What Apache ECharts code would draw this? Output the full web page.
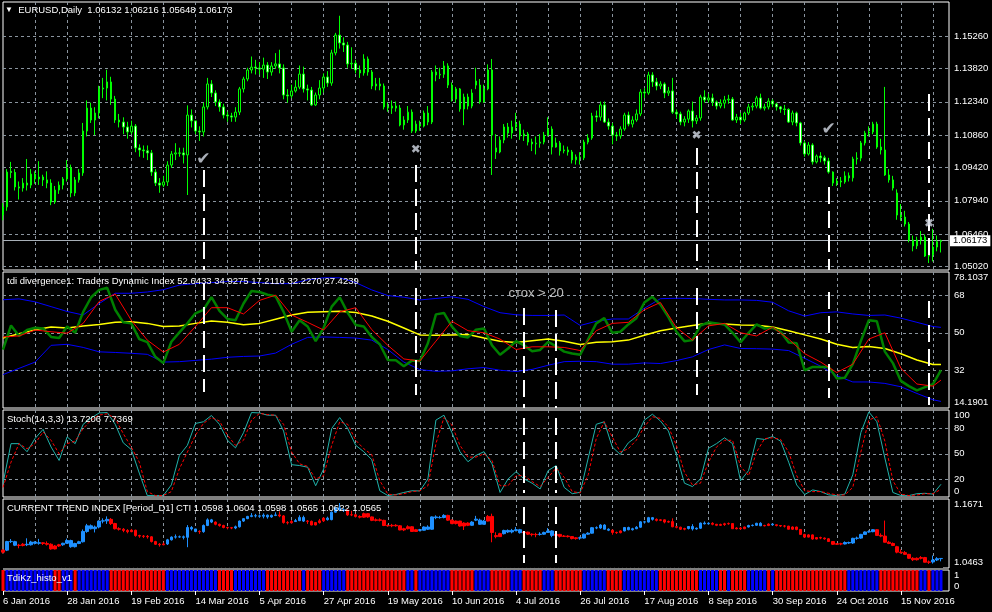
<!DOCTYPE html>
<html>
<head>
<meta charset="utf-8">
<script src="https://cdn.jsdelivr.net/npm/echarts@6/dist/echarts.min.js"></script>
<style>
  html, body { margin: 0; padding: 0; background: #000; }
  #main { width: 992px; height: 612px; }
</style>
</head>
<body>
<div id="main"></div>
<script>
// EURUSD daily, 6 Jan 2016 .. 29 Nov 2016 (235 bars) + MT4 indicator panes

const dateLabels = ['6 Jan 2016', '28 Jan 2016', '19 Feb 2016', '14 Mar 2016', '5 Apr 2016', '27 Apr 2016',
  '19 May 2016', '10 Jun 2016', '4 Jul 2016', '26 Jul 2016', '17 Aug 2016', '8 Sep 2016', '30 Sep 2016',
  '24 Oct 2016', '15 Nov 2016'];

// [open, close, low, high]
const ohlc = [
  [1.0731,1.0767,1.0708,1.0784],[1.0767,1.0922,1.0750,1.0935],[1.0925,1.0920,1.0895,1.0967],[1.0920,1.0856,1.0840,1.0935],
  [1.0856,1.0851,1.0800,1.0880],[1.0851,1.0873,1.0835,1.0895],[1.0873,1.0864,1.0840,1.0980],[1.0864,1.0913,1.0850,1.0935],
  [1.0913,1.0891,1.0870,1.0925],[1.0891,1.0900,1.0865,1.0970],[1.0900,1.0887,1.0860,1.0910],[1.0887,1.0873,1.0850,1.0925],
  [1.0873,1.0789,1.0775,1.0890],[1.0789,1.0842,1.0780,1.0860],[1.0842,1.0864,1.0825,1.0880],[1.0864,1.0891,1.0845,1.0900],
  [1.0891,1.0940,1.0880,1.0975],[1.0940,1.0829,1.0810,1.0955],[1.0829,1.0887,1.0815,1.0900],[1.0887,1.0918,1.0875,1.0935],
  [1.0918,1.1104,1.0905,1.1140],[1.1104,1.1206,1.1080,1.1240],[1.1206,1.1153,1.1140,1.1230],[1.1153,1.1184,1.1086,1.1210],
  [1.1184,1.1291,1.1160,1.1305],[1.1291,1.1295,1.1250,1.1340],[1.1295,1.1322,1.1240,1.1376],[1.1322,1.1246,1.1220,1.1345],
  [1.1246,1.1153,1.1140,1.1260],[1.1153,1.1144,1.1120,1.1180],[1.1144,1.1122,1.1090,1.1165],[1.1122,1.1100,1.1070,1.1145],
  [1.1100,1.1126,1.1090,1.1150],[1.1126,1.1029,1.1010,1.1135],[1.1029,1.1020,1.0990,1.1045],[1.1020,1.1016,1.0985,1.1040],
  [1.1016,1.1007,1.0975,1.1040],[1.1007,1.0922,1.0905,1.1020],[1.0922,1.0873,1.0860,1.0935],[1.0873,1.0864,1.0830,1.0895],
  [1.0864,1.0878,1.0855,1.0905],[1.0878,1.0953,1.0860,1.0970],[1.0953,1.1002,1.0940,1.1015],[1.1002,1.1007,1.0975,1.1050],
  [1.1005,1.1007,1.0990,1.1030],[1.1007,1.0998,1.0960,1.1030],[1.0998,1.1175,1.0820,1.1218],[1.1175,1.1149,1.1120,1.1200],
  [1.1149,1.1104,1.1090,1.1150],[1.1104,1.1100,1.1060,1.1125],[1.1100,1.1211,1.1080,1.1230],[1.1211,1.1313,1.1200,1.1340],
  [1.1313,1.1273,1.1255,1.1330],[1.1273,1.1233,1.1215,1.1285],[1.1233,1.1211,1.1190,1.1245],[1.1211,1.1175,1.1160,1.1225],
  [1.1175,1.1171,1.1145,1.1190],[1.1171,1.1166,1.1145,1.1185],[1.1166,1.1188,1.1145,1.1210],[1.1188,1.1291,1.1175,1.1300],
  [1.1291,1.1335,1.1275,1.1345],[1.1335,1.1375,1.1325,1.1385],[1.1375,1.1388,1.1360,1.1435],[1.1388,1.1384,1.1355,1.1420],
  [1.1384,1.1379,1.1355,1.1410],[1.1379,1.1397,1.1340,1.1430],[1.1397,1.1366,1.1335,1.1410],[1.1366,1.1393,1.1350,1.1410],
  [1.1393,1.1402,1.1380,1.1450],[1.1402,1.1384,1.1360,1.1465],[1.1384,1.1264,1.1245,1.1400],[1.1264,1.1260,1.1230,1.1290],
  [1.1260,1.1282,1.1250,1.1310],[1.1282,1.1299,1.1275,1.1330],[1.1299,1.1357,1.1290,1.1395],[1.1357,1.1291,1.1275,1.1390],
  [1.1291,1.1286,1.1240,1.1310],[1.1286,1.1220,1.1215,1.1300],[1.1220,1.1264,1.1215,1.1275],[1.1264,1.1295,1.1245,1.1330],
  [1.1295,1.1344,1.1275,1.1360],[1.1344,1.1317,1.1300,1.1370],[1.1317,1.1451,1.1305,1.1465],[1.1451,1.1530,1.1440,1.1540],
  [1.1530,1.1495,1.1470,1.1616],[1.1495,1.1486,1.1455,1.1520],[1.1486,1.1402,1.1385,1.1500],[1.1402,1.1405,1.1380,1.1476],
  [1.1405,1.1375,1.1360,1.1420],[1.1375,1.1362,1.1340,1.1395],[1.1362,1.1424,1.1350,1.1445],[1.1424,1.1366,1.1350,1.1435],
  [1.1366,1.1304,1.1290,1.1375],[1.1304,1.1313,1.1285,1.1340],[1.1313,1.1304,1.1285,1.1340],[1.1304,1.1211,1.1200,1.1315],
  [1.1211,1.1206,1.1190,1.1230],[1.1206,1.1215,1.1180,1.1240],[1.1215,1.1206,1.1190,1.1235],[1.1206,1.1131,1.1125,1.1220],
  [1.1131,1.1153,1.1110,1.1170],[1.1153,1.1188,1.1140,1.1215],[1.1188,1.1104,1.1095,1.1200],[1.1104,1.1135,1.1095,1.1150],
  [1.1135,1.1126,1.1105,1.1150],[1.1126,1.1184,1.1120,1.1195],[1.1184,1.1144,1.1130,1.1215],[1.1144,1.1366,1.1135,1.1375],
  [1.1366,1.1353,1.1325,1.1395],[1.1353,1.1356,1.1335,1.1385],[1.1356,1.1393,1.1340,1.1415],[1.1393,1.1308,1.1295,1.1405],
  [1.1308,1.1246,1.1235,1.1320],[1.1246,1.1291,1.1230,1.1300],[1.1291,1.1202,1.1190,1.1295],[1.1202,1.1255,1.1130,1.1270],
  [1.1255,1.1215,1.1200,1.1270],[1.1215,1.1273,1.1205,1.1290],[1.1326,1.1308,1.1290,1.1385],[1.1308,1.1233,1.1225,1.1335],
  [1.1233,1.1291,1.1230,1.1310],[1.1291,1.1375,1.1285,1.1400],[1.1375,1.1086,1.0909,1.1424],[1.1029,1.1011,1.0980,1.1090],
  [1.1011,1.1064,1.1005,1.1080],[1.1064,1.1122,1.1050,1.1135],[1.1122,1.1095,1.1075,1.1140],[1.1095,1.1122,1.1070,1.1150],
  [1.1122,1.1135,1.1105,1.1185],[1.1135,1.1082,1.1065,1.1150],[1.1082,1.1091,1.1060,1.1110],[1.1091,1.1055,1.1040,1.1100],
  [1.1055,1.1047,1.1015,1.1070],[1.1047,1.1050,1.1000,1.1080],[1.1050,1.1055,1.1030,1.1090],[1.1055,1.1086,1.1045,1.1100],
  [1.1086,1.1113,1.1080,1.1165],[1.1113,1.1033,1.1000,1.1125],[1.1033,1.1051,1.1030,1.1075],[1.1051,1.1016,1.0995,1.1060],
  [1.1016,1.1020,1.1005,1.1040],[1.1020,1.1011,1.0995,1.1035],[1.1011,1.0976,1.0960,1.1020],[1.0976,1.0989,1.0955,1.1000],
  [1.0989,1.0985,1.0955,1.1010],[1.0985,1.1055,1.0975,1.1065],[1.1055,1.1073,1.1045,1.1090],[1.1073,1.1171,1.1065,1.1185],
  [1.1171,1.1166,1.1145,1.1195],[1.1166,1.1220,1.1150,1.1235],[1.1220,1.1144,1.1140,1.1235],[1.1144,1.1126,1.1110,1.1160],
  [1.1126,1.1086,1.1045,1.1140],[1.1086,1.1082,1.1060,1.1100],[1.1082,1.1113,1.1070,1.1125],[1.1113,1.1175,1.1105,1.1185],
  [1.1175,1.1135,1.1125,1.1190],[1.1135,1.1153,1.1120,1.1170],[1.1153,1.1180,1.1145,1.1200],[1.1180,1.1277,1.1170,1.1290],
  [1.1277,1.1273,1.1250,1.1295],[1.1273,1.1353,1.1265,1.1367],[1.1353,1.1322,1.1300,1.1365],[1.1322,1.1304,1.1285,1.1340],
  [1.1304,1.1313,1.1290,1.1325],[1.1313,1.1273,1.1250,1.1320],[1.1273,1.1282,1.1260,1.1300],[1.1282,1.1188,1.1180,1.1340],
  [1.1188,1.1180,1.1160,1.1200],[1.1180,1.1144,1.1130,1.1190],[1.1144,1.1157,1.1125,1.1170],[1.1157,1.1193,1.1140,1.1200],
  [1.1193,1.1149,1.1120,1.1235],[1.1149,1.1162,1.1135,1.1175],[1.1162,1.1255,1.1150,1.1265],[1.1255,1.1242,1.1230,1.1285],
  [1.1242,1.1251,1.1230,1.1270],[1.1251,1.1233,1.1215,1.1270],[1.1233,1.1215,1.1200,1.1240],[1.1215,1.1228,1.1205,1.1245],
  [1.1228,1.1242,1.1205,1.1260],[1.1242,1.1246,1.1225,1.1265],[1.1246,1.1153,1.1150,1.1255],[1.1153,1.1166,1.1140,1.1180],
  [1.1166,1.1153,1.1135,1.1185],[1.1153,1.1184,1.1145,1.1190],[1.1184,1.1211,1.1175,1.1225],[1.1211,1.1215,1.1195,1.1230],
  [1.1215,1.1251,1.1205,1.1260],[1.1251,1.1206,1.1200,1.1270],[1.1206,1.1211,1.1195,1.1225],[1.1211,1.1237,1.1200,1.1250],
  [1.1237,1.1224,1.1210,1.1245],[1.1224,1.1211,1.1195,1.1230],[1.1211,1.1202,1.1185,1.1215],[1.1202,1.1200,1.1175,1.1220],
  [1.1200,1.1144,1.1140,1.1205],[1.1144,1.1184,1.1130,1.1195],[1.1184,1.1140,1.1125,1.1190],[1.1140,1.1051,1.1040,1.1145],
  [1.1051,1.1002,1.0990,1.1060],[1.1002,1.1042,1.0995,1.1055],[1.1042,1.0967,1.0955,1.1050],[1.0967,1.0993,1.0960,1.1000],
  [1.0993,1.0985,1.0965,1.1010],[1.0985,1.0971,1.0955,1.0995],[1.0971,1.0922,1.0915,1.0985],[1.0922,1.0873,1.0860,1.0925],
  [1.0873,1.0882,1.0860,1.0895],[1.0882,1.0878,1.0855,1.0900],[1.0878,1.0905,1.0870,1.0925],[1.0905,1.0896,1.0880,1.0920],
  [1.0896,1.0980,1.0880,1.0990],[1.0980,1.0984,1.0955,1.1010],[1.0984,1.1051,1.0970,1.1060],[1.1051,1.1095,1.1040,1.1105],
  [1.1095,1.1100,1.1080,1.1125],[1.1100,1.1135,1.1090,1.1145],[1.1135,1.1033,1.1025,1.1145],[1.1033,1.1020,1.1000,1.1070],
  [1.1020,1.0909,1.0905,1.1300],[1.0909,1.0887,1.0875,1.0935],[1.0887,1.0851,1.0840,1.0905],[1.0829,1.0731,1.0710,1.0845],
  [1.0731,1.0722,1.0705,1.0780],[1.0722,1.0691,1.0680,1.0750],[1.0691,1.0620,1.0610,1.0700],[1.0620,1.0594,1.0570,1.0640],
  [1.0594,1.0620,1.0580,1.0635],[1.0620,1.0633,1.0600,1.0660],[1.0633,1.0549,1.0545,1.0645],[1.0549,1.0554,1.0518,1.0580],
  [1.0554,1.0589,1.0525,1.0670],[1.0589,1.0613,1.0570,1.0640],[1.06132,1.06173,1.05648,1.06216]
];
const lastPrice = 1.06173;

// Traders Dynamic Index: price line read every 2 bars, the others every 4 bars
const tdiGreen = [
  42, 53.5, 48.5, 51.3, 52.4, 52.1, 48, 47.5, 53, 50, 60, 67,
  70.5, 71.5, 61, 55, 54.5, 47, 45.5, 38.5, 35.5, 45.7, 50.2, 54.5,
  59.3, 61, 67, 60.5, 56.6, 56, 64, 70, 69.5, 68.2, 67.5, 60,
  50.5, 56, 53, 46, 52.4, 62.5, 67, 59.5, 53.7, 53, 48, 44.5,
  37, 36.9, 34, 36.7, 36.5, 45, 58.8, 59.5, 53, 48.5, 47.8, 51.5,
  52, 44,
  39.5, 42.5, 46, 44, 41.2, 41.8, 45.7, 43.5, 41, 40.1, 39.5, 47,
  54.5, 57, 50, 50.5, 54, 57, 64.5, 67.2, 63.5, 57.5, 50.5, 46,
  46.5, 53.5, 55, 54.5, 54, 50, 45.5, 50, 54, 52, 52.4, 50.5,
  45.4, 45, 32, 33.7, 33.7, 33.7, 28.2, 28.5, 35, 46, 56, 55.5,
  41, 35.5, 27, 24.5, 22.5, 24, 25.5, 32.2
];
const tdiRed = [
  48, 48.5, 51.3, 50.5, 49.8, 54.5, 65, 68.5, 56, 46.5, 40.8, 44.5,
  53, 62, 62, 59, 65.5, 68, 58.5, 55, 51.3, 60, 62, 51.5,
  44, 37.5, 36.5, 46, 55.5, 51, 50, 47, 42, 43.3, 43.3, 43,
  41.5, 51, 54.5, 55, 61, 64.5, 52.5, 46.5, 53.3, 54.5, 50, 48.5,
  52.7, 47, 40, 36, 31, 35, 47, 50, 33, 25.5, 24.5, 27.4
];
const tdiYellow = [
  47.5, 49.5, 51.5, 52.8, 52.3, 53.2, 54, 55, 55.3, 54.5, 53, 53.3,
  54.5, 55.6, 55, 53.8, 54.5, 56.5, 58.5, 59.8, 60.1, 60.3, 59.7, 58,
  55.5, 52.3, 49, 48.8, 49, 49.2, 47.5, 46, 45.4, 46.2, 47, 46,
  44.4, 45.5, 45.7, 46.5, 48.8, 51, 52.3, 53.5, 54.6, 54.2, 53.7, 53.6,
  52.8, 51, 49, 47, 44.5, 43, 43.5, 42.5, 40, 37, 34.8, 34.9
];
const tdiUpper = [
  65.8, 66.2, 64.8, 62.5, 60.2, 58.5, 64, 68.9, 68.9, 69.5, 70.6, 72.8,
  73.5, 74, 74.5, 74.5, 74, 73.5, 73.5, 75.3, 76.3, 76.3, 74, 70.5,
  67.8, 67, 65.7, 66.4, 67.2, 66, 62.5, 59.6, 58.6, 58.3, 58.3, 58.5,
  53.5, 55.5, 56.6, 56.6, 61.7, 66.3, 66.5, 66.4, 66, 65.7, 65.7, 65.5,
  64.6, 60.5, 58, 59.6, 60, 59, 58.3, 58.5, 57, 55, 53, 52.6
];
const tdiLower = [
  30, 33, 36, 44, 44.5, 43, 40.9, 40.6, 40.2, 39.7, 36, 36.2,
  36.8, 37.4, 38.3, 38.7, 38.9, 40.3, 44.5, 47.8, 48, 47.8, 47.5, 46.5,
  42, 36, 32.4, 31.6, 31.8, 32.8, 33.4, 32.1, 31.5, 32.5, 34.5, 36.2,
  36.4, 36.2, 35, 35, 35.6, 35.3, 36.7, 38.5, 42, 44.2, 42.5, 42.4,
  42.2, 41.5, 37.8, 34, 29.5, 26.5, 26.5, 25.8, 24.2, 21, 18, 17.2
];

// Stochastic(14,3,3), read every 2 bars
const stochMain = [
  15, 62, 62, 52.4, 68.2, 79, 58, 42, 70, 62, 85, 92.5,
  98.5, 99, 85, 63, 55, 27, 0.3, 0.3, 0.3, 13, 48, 60,
  86, 88, 95.5, 85, 66, 57, 75, 99, 98.5, 95.8, 95.8, 77,
  37, 36, 34, 12, 32, 80, 93, 80, 60, 52.4, 43, 6,
  0.3, 1.5, 4, 6, 5.8, 20, 90, 95.8, 75, 52.4, 40.5, 48,
  52.5, 38,
  4, 20, 28.7, 20, 15, 8.2, 30, 36, 10, 2.5, 4.2, 45,
  85, 88, 58, 49.2, 63, 70.1, 90, 97, 89, 77, 48.4, 15,
  11, 20, 56.5, 62, 69, 62, 18, 30, 68.2, 67, 70.5, 65,
  40, 12.9, 1.5, 7, 5, 1.1, 0.3, 2, 25, 75, 99.7, 88,
  45, 4, 0.3, 0.3, 2.5, 3, 2, 13.7
];
const stochSignal = [
  10, 40, 62, 56, 62, 76, 66, 50, 62, 65, 80, 90,
  96, 97.5, 92, 74, 58, 40, 5, 0.3, 0.3, 5, 32, 52,
  72, 86, 93, 89, 72, 60, 66, 90, 98, 96.5, 95.8, 85,
  52, 38, 35, 20, 24, 60, 88, 85, 66, 56, 49, 18,
  2, 1, 2.5, 5, 6, 12, 62, 93, 84, 60, 46, 46,
  50, 42,
  12, 12, 24, 24, 17, 11, 22, 33, 22, 5, 3.5, 25,
  68, 88, 70, 52, 56, 66, 82, 94, 92, 82, 60, 28,
  13, 15, 40, 58, 66, 66, 35, 24, 52, 68, 69, 67,
  52, 24, 6, 5, 5, 3, 1, 1, 10, 52, 90, 94,
  65, 18, 2, 0.3, 1, 2.5, 2.5, 7.7
];

// trend colour runs (B = up / blue, R = down / red)
const ctiRuns = [['R',1],['B',3],['R',2],['B',4],['R',5],['B',12],['R',14],['B',8],['R',1],['B',3],['R',5],['B',11],
  ['R',4],['B',3],['R',5],['B',5],['R',18],['B',7],['R',6],['B',4],['R',4],['B',5],['R',4],['B',4],['R',6],['B',8],
  ['R',3],['B',8],['R',8],['B',6],['R',9],['B',4],['R',2],['B',1],['R',17],['B',8],['R',14],['B',3]];
const histoRuns = [['R',1],['B',12],['R',2],['B',3],['R',1],['B',8],['R',14],['B',13],['R',4],['B',8],['R',9],['B',1],
  ['R',4],['B',6],['R',15],['B',2],['R',1],['B',8],['R',6],['B',4],['R',5],['B',3],['R',5],['B',3],['R',7],['B',6],
  ['R',4],['B',9],['R',10],['B',5],['R',2],['B',1],['R',4],['B',5],['R',1],['B',1],['R',18],['B',8],['R',10],['B',2],
  ['R',1],['B',3]];

// right scale ticks
const priceTicks = [1.0502, 1.0646, 1.0794, 1.0942, 1.1086, 1.1234, 1.1382, 1.1526];
const priceTickText = ['1.05020', '1.06460', '1.07940', '1.09420', '1.10860', '1.12340', '1.13820', '1.15260'];
const tdiTicks = [68, 50, 32];
const tdiRange = ['78.1037', '14.1901'];
const stochTicks = [80, 50, 20];
const stochRange = ['100', '0'];
const ctiRange = ['1.1671', '1.0463'];
const histoRange = ['1', '0'];

// signal arrows and the dashed verticals under them (price / TDI levels)
const signals = [
  {bar: 50,  glyph: '✔', at: 1.0976, from: 1.0931, tdi: [73.8, 21.7]},
  {bar: 103, glyph: '✖', at: 1.1020, from: 1.0953, tdi: [71.4, 20.3]},
  {bar: 173, glyph: '✖', at: 1.1082, from: 1.1029, tdi: [71.4, 20.3]},
  {bar: 206, glyph: '✔', at: 1.1109, from: 1.0856, tdi: [69.5, 18.8]},
  {bar: 231, glyph: '✖', at: 1.0692, from: 1.1269, to: 1.0554, tdi: [65.2, 15.5]}
];
const stochCross = [{bar: 130, tdi: 61.8}, {bar: 138, tdi: 60.9}];

const N = 237;            // 235 bars + chart shift
const LAST = ohlc.length - 1;
const FONT = 'Liberation Sans, Arial, sans-serif';
const cats = [];
for (let i = 0; i < N; i++) cats.push(String(i));

function place(vals, step) {
  const out = new Array(N).fill(null);
  vals.forEach((v, i) => { out[Math.min(i * step, LAST)] = v; });
  return out;
}
function expand(runs) {
  const out = [];
  runs.forEach(([s, n]) => { for (let k = 0; k < n; k++) out.push(s); });
  return out;
}

const panes = [
  {top: 2,   height: 268, min: 1.0487, max: 1.1677},
  {top: 272, height: 136, min: 14.05,  max: 79.06},
  {top: 410, height: 87,  min: -1.4,   max: 102},
  {top: 499, height: 69,  min: 1.0445, max: 1.1689},
  {top: 570, height: 21,  min: 0,      max: 1}
];

const clear = 'rgba(0,0,0,0)';
const gridDash = {color: '#8a949e', width: 1, type: [3, 3]};
const vDash = {color: '#ffffff', width: 2, type: [17, 7], opacity: 1};
const tickText = {show: true, position: 'end', distance: 5, color: '#fff', fontSize: 9.5, fontFamily: FONT};

function scaleMarks(p, ticks, texts, range) {
  const items = ticks.map((v, i) => ({yAxis: v, label: {formatter: texts[i]}}));
  if (range) {
    const eps = (p.max - p.min) * 0.004;
    items.push({yAxis: p.max - eps, lineStyle: {color: clear, type: 'solid'},
      label: {formatter: range[0], verticalAlign: 'top', color: '#fff'}});
    items.push({yAxis: p.min + eps, lineStyle: {color: clear, type: 'solid'},
      label: {formatter: range[1], verticalAlign: 'bottom', color: '#fff'}});
  }
  return items;
}
function helper(i, items, z, style) {
  return {
    type: 'line', xAxisIndex: i, yAxisIndex: i, data: [], silent: true,
    markLine: {silent: true, symbol: ['none', 'none'], animation: false, z: z, precision: 6,
      lineStyle: style, label: tickText, data: items}
  };
}
function vSeg(bar, a, b) {
  return [{coord: [bar, a], label: {show: false}}, {coord: [bar, b]}];
}
function tdiLine(vals, step, color, width) {
  return {type: 'line', xAxisIndex: 1, yAxisIndex: 1, data: place(vals, step), connectNulls: true,
    symbol: 'none', silent: true, lineStyle: {color: color, width: width}};
}

const ctiColors = expand(ctiRuns);
const histoStates = expand(histoRuns);

const titleStyle = {color: '#fff', fontSize: 9.5, fontFamily: FONT, fontWeight: 'normal'};

const chart = echarts.init(document.getElementById('main'));
chart.setOption({
  backgroundColor: '#000',
  animation: false,
  title: [
    {text: '{t|▼}  EURUSD,Daily  1.06132 1.06216 1.05648 1.06173', left: 5, top: 5, padding: 0,
      textStyle: Object.assign({rich: {t: {fontSize: 8, color: '#fff'}}}, titleStyle)},
    {text: 'tdi divergence1: Traders Dynamic Index 52.6433 34.9275 17.2116 32.2270 27.4239', left: 7, top: 276, padding: 0, textStyle: titleStyle},
    {text: 'Stoch(14,3,3) 13.7206 7.7369', left: 7, top: 414, padding: 0, textStyle: titleStyle},
    {text: 'CURRENT TREND INDEX [Period_D1] CTI 1.0598 1.0604 1.0598 1.0565 1.0622 1.0565', left: 7, top: 503, padding: 0, textStyle: titleStyle},
    {text: 'TdiKz_histo_v1', left: 7, top: 573, padding: 0, textStyle: titleStyle}
  ],
  grid: panes.map(p => ({left: 3, right: 43, top: p.top, height: p.height, show: true,
    borderColor: '#fff', borderWidth: 1, backgroundColor: '#000'})),
  xAxis: panes.map((p, i) => ({
    type: 'category', gridIndex: i, data: cats, boundaryGap: false,
    axisLine: {show: false},
    axisTick: i === 4 ? {show: true, interval: 15, length: 4, lineStyle: {color: '#fff'}} : {show: false},
    axisLabel: i === 4 ? {show: true, interval: 15, align: 'left', margin: 5, color: '#fff', fontSize: 9.5,
      fontFamily: FONT, formatter: (v, idx) => (idx % 16 === 0 && dateLabels[idx / 16]) || ''} : {show: false},
    splitLine: {show: i < 4, interval: idx => idx > 0 && idx % 8 === 0, lineStyle: gridDash}
  })),
  yAxis: panes.map((p, i) => ({
    type: 'value', gridIndex: i, min: p.min, max: p.max, position: 'right', scale: true,
    axisLine: {show: false}, axisTick: {show: false}, axisLabel: {show: false}, splitLine: {show: false}
  })),
  series: [
    // price pane: current price line first so the scale labels sit above its box
    helper(0, [{yAxis: lastPrice, lineStyle: {type: 'solid', color: '#a8b0b8'},
      label: {formatter: lastPrice.toFixed(5), backgroundColor: '#fff', color: '#000',
        lineHeight: 10, padding: [1, 3, 0, 3], distance: 1}}], 1, gridDash),
    helper(0, scaleMarks(panes[0], priceTicks, priceTickText), 1, gridDash),
    {
      type: 'candlestick', xAxisIndex: 0, yAxisIndex: 0, data: ohlc, barWidth: 2, silent: true,
      itemStyle: {color: '#000', color0: '#fff', borderColor: '#00ff00', borderColor0: '#00ff00',
        borderColorDoji: '#00ff00', borderWidth: 1}
    },
    {
      type: 'scatter', xAxisIndex: 0, yAxisIndex: 0, symbolSize: 2, silent: true, z: 6,
      itemStyle: {color: clear},
      data: signals.map(s => ({value: [s.bar, s.at], label: {formatter: s.glyph, fontSize: s.glyph === '✔' ? 17 : 12}})),
      label: {show: true, position: 'inside', color: '#d4dbe6', fontFamily: 'DejaVu Sans'}
    },
    helper(0, signals.map(s => vSeg(s.bar, s.from, s.to || panes[0].min)), 5, vDash),

    // TDI pane
    helper(1, scaleMarks(panes[1], tdiTicks, tdiTicks.map(String), tdiRange), 1, gridDash),
    tdiLine(tdiUpper, 4, '#0000ff', 1),
    tdiLine(tdiLower, 4, '#0000ff', 1),
    tdiLine(tdiYellow, 4, '#ffff00', 1.5),
    tdiLine(tdiGreen, 2, '#008000', 2.5),
    tdiLine(tdiRed, 4, '#ff0000', 1),
    helper(1, signals.map(s => vSeg(s.bar, s.tdi[0], s.tdi[1]))
      .concat(stochCross.map(c => vSeg(c.bar, c.tdi, panes[1].min))), 5, vDash),
    {
      type: 'scatter', xAxisIndex: 1, yAxisIndex: 1, symbolSize: 2, silent: true, z: 6,
      itemStyle: {color: clear}, data: [[133, 69]],
      label: {show: true, position: 'inside', formatter: 'стох > 20', color: '#e6e6e6', fontSize: 13, fontFamily: FONT}
    },

    // Stochastic pane
    helper(2, scaleMarks(panes[2], stochTicks, stochTicks.map(String), stochRange), 1, gridDash),
    {type: 'line', xAxisIndex: 2, yAxisIndex: 2, data: place(stochMain, 2), connectNulls: true, symbol: 'none',
      silent: true, lineStyle: {color: '#20b2aa', width: 1}},
    {type: 'line', xAxisIndex: 2, yAxisIndex: 2, data: place(stochSignal, 2), connectNulls: true, symbol: 'none',
      silent: true, lineStyle: {color: '#ff0000', width: 1, type: [3, 2]}},
    helper(2, stochCross.map(c => vSeg(c.bar, 92.5, 3.4)), 5, vDash),

    // Current Trend Index pane
    helper(3, scaleMarks(panes[3], [], [], ctiRange), 1, gridDash),
    {type: 'bar', xAxisIndex: 3, yAxisIndex: 3, data: ohlc.map(d => d[2]), barWidth: 4, silent: true,
      itemStyle: {color: '#000'}},
    {
      type: 'candlestick', xAxisIndex: 3, yAxisIndex: 3, barWidth: 3, silent: true,
      data: ohlc.map((d, i) => {
        const c = ctiColors[i] === 'B' ? '#1e90ff' : '#ff0000';
        return {value: d, itemStyle: {color: c, color0: c, borderColor: c, borderColor0: c, borderColorDoji: c, borderWidth: 1}};
      })
    },
    helper(3, stochCross.map(c => vSeg(c.bar, 1.1545, 1.0535)), 5, vDash),

    // TdiKz histogram pane
    helper(4, scaleMarks(panes[4], [], [], histoRange), 1, gridDash),
    {
      type: 'bar', xAxisIndex: 4, yAxisIndex: 4, barWidth: 3, silent: true,
      data: histoStates.map(s => ({value: 1, itemStyle: {color: s === 'B' ? '#0000ff' : '#ff0000'}}))
    }
  ]
});
</script>
</body>
</html>
